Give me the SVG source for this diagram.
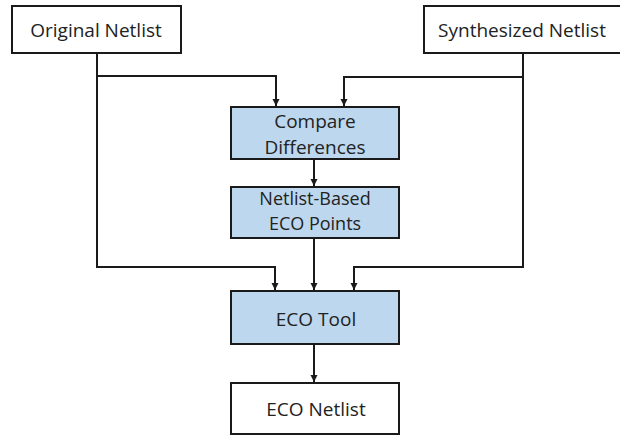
<svg xmlns="http://www.w3.org/2000/svg" width="620" height="436" viewBox="0 0 620 436">
<style>
.box{stroke:#1a1a1a;stroke-width:2;fill:#ffffff}
.blue{fill:#bdd7ee}
.lbl{font-family:"Open Sans","Liberation Sans",sans-serif;font-size:19px;fill:#222;text-anchor:middle}
.sm{font-size:18px}
.conn{fill:none;stroke:#1a1a1a;stroke-width:2}
</style>
<defs>
<marker id="arr" markerUnits="userSpaceOnUse" markerWidth="8" markerHeight="8" refX="7" refY="3.5" orient="auto">
<path d="M0,0 L7,3.5 L0,7 z" fill="#1a1a1a"/>
</marker>
</defs>
<rect width="620" height="436" fill="#ffffff"/>
<g id="connectors">
<path class="conn" d="M97,53 V76 H276 V106" marker-end="url(#arr)"/>
<path class="conn" d="M97,53 V267 H275 V290" marker-end="url(#arr)"/>
<path class="conn" d="M523,53 V77 H344 V106" marker-end="url(#arr)"/>
<path class="conn" d="M523,53 V267 H354 V290" marker-end="url(#arr)"/>
<path class="conn" d="M314,159 V186" marker-end="url(#arr)"/>
<path class="conn" d="M314,238 V290" marker-end="url(#arr)"/>
<path class="conn" d="M314,344 V382" marker-end="url(#arr)"/>
</g>
<g id="original-netlist">
<rect class="box" x="12" y="6" width="169" height="47"/>
<text class="lbl" x="96" y="37">Original Netlist</text>
</g>
<g id="synthesized-netlist">
<rect class="box" x="424" y="6" width="198" height="47"/>
<text class="lbl" x="522" y="37">Synthesized Netlist</text>
</g>
<g id="compare-differences">
<rect class="box blue" x="231" y="107" width="168" height="52"/>
<text class="lbl" x="315" y="128">Compare</text>
<text class="lbl" x="315" y="154">Differences</text>
</g>
<g id="netlist-based-eco-points">
<rect class="box blue" x="231" y="187" width="168" height="51"/>
<text class="lbl sm" x="315" y="205">Netlist-Based</text>
<text class="lbl sm" x="315" y="230">ECO Points</text>
</g>
<g id="eco-tool">
<rect class="box blue" x="231" y="291" width="168" height="53"/>
<text class="lbl" x="316" y="326">ECO Tool</text>
</g>
<g id="eco-netlist">
<rect class="box" x="231" y="383" width="168" height="51"/>
<text class="lbl" x="316" y="416">ECO Netlist</text>
</g>
</svg>
